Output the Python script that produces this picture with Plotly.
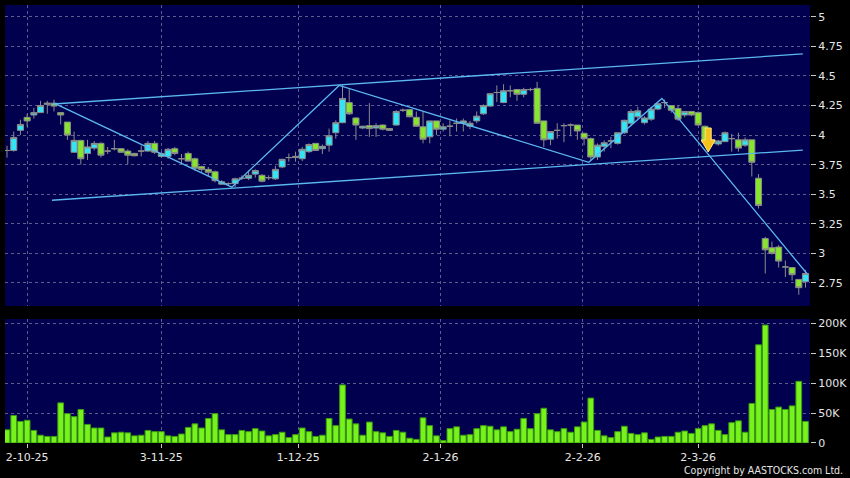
import plotly.graph_objects as go

# ---------------- data ----------------
open_ = [3.87, 3.87, 4.04, 4.15, 4.17, 4.19, 4.26, 4.27, 4.19, 4.11,
         3.855, 3.955, 3.845, 3.89, 3.93, 3.865, 3.885, 3.885, 3.865, 3.845,
         3.865, 3.865, 3.93, 3.82, 3.82, 3.885, 3.80, 3.845, 3.80, 3.735,
         3.71, 3.69, 3.585, 3.59, 3.59, 3.635, 3.635, 3.67, 3.66, 3.64,
         3.63, 3.73, 3.81, 3.81, 3.80, 3.86, 3.93, 3.885, 3.915, 4.02,
         4.105, 4.275, 4.145, 4.06, 4.08, 4.06, 4.085, 4.055, 4.085, 4.21,
         4.215, 4.15, 4.07, 3.985, 4.12, 4.05, 4.075, 4.10, 4.10, 4.075,
         4.12, 4.18, 4.245, 4.36, 4.275, 4.375, 4.385, 4.345, 4.385, 4.395,
         4.12, 3.965, 4.04, 4.08, 4.085, 4.085, 4.015, 3.97, 3.815, 3.905,
         3.95, 3.93, 4.02, 4.10, 4.155, 4.105, 4.135, 4.22, 4.275, 4.25,
         4.225, 4.17, 4.20, 4.19, 4.075, 3.96, 3.925, 3.945, 3.97, 3.96,
         3.915, 3.96, 3.635, 3.125, 3.048, 3.053, 2.885, 2.88, 2.78, 2.76]
high = [3.91, 4.03, 4.13, 4.18, 4.23, 4.29, 4.29, 4.30, 4.19, 4.11,
        4.03, 3.96, 3.96, 3.95, 3.94, 3.90, 3.96, 3.89, 3.88, 3.85,
        3.91, 3.95, 3.95, 3.86, 3.89, 3.90, 3.84, 3.86, 3.81, 3.74,
        3.73, 3.70, 3.62, 3.60, 3.64, 3.66, 3.70, 3.71, 3.67, 3.66,
        3.74, 3.80, 3.845, 3.86, 3.90, 3.93, 3.93, 3.92, 4.055, 4.125,
        4.42, 4.39, 4.15, 4.08, 4.27, 4.10, 4.09, 4.06, 4.21, 4.225,
        4.22, 4.20, 4.20, 4.12, 4.12, 4.10, 4.125, 4.14, 4.14, 4.12,
        4.20, 4.26, 4.35, 4.42, 4.43, 4.42, 4.39, 4.40, 4.40, 4.45,
        4.12, 4.03, 4.10, 4.10, 4.10, 4.085, 4.02, 3.98, 3.93, 3.955,
        3.985, 4.02, 4.13, 4.22, 4.24, 4.16, 4.24, 4.27, 4.30, 4.25,
        4.25, 4.20, 4.20, 4.20, 4.08, 3.97, 3.96, 4.03, 4.01, 4.02,
        3.98, 3.96, 3.67, 3.14, 3.10, 3.07, 2.94, 2.88, 2.78, 2.86]
low = [3.81, 3.86, 4.00, 4.07, 4.14, 4.19, 4.18, 4.20, 4.09, 3.96,
       3.85, 3.75, 3.79, 3.87, 3.81, 3.84, 3.87, 3.85, 3.755, 3.82,
       3.82, 3.86, 3.84, 3.81, 3.80, 3.83, 3.76, 3.78, 3.70, 3.69,
       3.65, 3.60, 3.58, 3.57, 3.56, 3.62, 3.62, 3.64, 3.60, 3.62,
       3.62, 3.72, 3.775, 3.775, 3.78, 3.85, 3.87, 3.84, 3.86, 3.97,
       4.10, 4.17, 3.96, 4.05, 3.985, 3.985, 4.04, 4.035, 4.08, 4.195,
       4.15, 4.07, 3.93, 3.93, 4.00, 4.03, 3.99, 4.03, 4.03, 4.05,
       4.10, 4.17, 4.24, 4.28, 4.27, 4.32, 4.29, 4.32, 4.37, 4.10,
       3.90, 3.915, 3.97, 3.94, 3.99, 3.96, 3.915, 3.79, 3.79, 3.86,
       3.89, 3.92, 4.01, 4.08, 4.14, 4.09, 4.12, 4.21, 4.23, 4.19,
       4.12, 4.15, 4.16, 4.08, 3.93, 3.90, 3.91, 3.94, 3.86, 3.86,
       3.90, 3.65, 3.38, 2.83, 2.99, 2.88, 2.80, 2.77, 2.65, 2.71]
close = [3.87, 3.98, 4.09, 4.12, 4.19, 4.25, 4.27, 4.245, 4.17, 4.00,
         3.955, 3.80, 3.90, 3.93, 3.83, 3.865, 3.885, 3.855, 3.83, 3.825,
         3.865, 3.93, 3.855, 3.845, 3.88, 3.845, 3.80, 3.78, 3.72, 3.71,
         3.685, 3.615, 3.605, 3.59, 3.63, 3.635, 3.66, 3.70, 3.61, 3.64,
         3.71, 3.795, 3.81, 3.82, 3.88, 3.92, 3.87, 3.905, 3.995, 4.105,
         4.31, 4.18, 4.085, 4.075, 4.055, 4.08, 4.05, 4.04, 4.20, 4.21,
         4.155, 4.075, 3.965, 4.12, 4.05, 4.07, 4.075, 4.10, 4.12, 4.10,
         4.16, 4.25, 4.35, 4.36, 4.375, 4.375, 4.345, 4.385, 4.385, 4.10,
         3.96, 4.03, 4.04, 4.08, 4.085, 4.035, 3.97, 3.815, 3.915, 3.935,
         3.95, 4.02, 4.125, 4.20, 4.205, 4.145, 4.22, 4.265, 4.275, 4.21,
         4.135, 4.20, 4.17, 4.085, 3.94, 3.93, 3.95, 4.02, 3.97, 3.89,
         3.96, 3.77, 3.405, 3.03, 3.00, 2.935, 2.885, 2.82, 2.71, 2.83]
volume_k = [22, 46, 36, 38, 21, 13, 11, 11, 67, 49,
            44, 56, 31, 25, 25, 10, 17, 18, 17, 12,
            13, 21, 19, 19, 12, 11, 15, 26, 32, 25,
            41, 49, 22, 14, 14, 21, 19, 24, 20, 12,
            14, 18, 9, 14, 25, 19, 11, 13, 41, 29,
            97, 40, 32, 13, 35, 19, 17, 11, 21, 18,
            8, 6, 42, 29, 12, 4, 24, 27, 13, 14,
            24, 29, 28, 22, 27, 19, 23, 41, 24, 49,
            58, 22, 19, 24, 18, 27, 35, 75, 21, 12,
            9, 19, 28, 16, 14, 17, 6, 10, 11, 11,
            18, 20, 16, 24, 29, 32, 21, 14, 34, 37,
            18, 66, 164, 197, 56, 60, 56, 62, 103, 36]
volume = [v * 1000 for v in volume_k]
bar_index = list(range(len(close)))

date_tick_pos = [3, 23, 43.4, 64.6, 85.8, 103]
date_tick_text = ["2-10-25", "3-11-25", "1-12-25", "2-1-26", "2-2-26", "2-3-26"]
price_ticks = [2.75, 3, 3.25, 3.5, 3.75, 4, 4.25, 4.5, 4.75, 5]
vol_tick_vals = [0, 50000, 100000, 150000, 200000]
vol_tick_text = ["0", "50K", "100K", "150K", "200K"]

# drawn trend lines (bar index, price)
channel_upper_x = [6.9, 118.6]
channel_upper_y = [4.263, 4.686]
channel_lower_x = [6.7, 118.6]
channel_lower_y = [3.449, 3.873]
zigzag_x = [7.0, 33.5, 49.5, 86.7, 97.6, 119.2]
zigzag_y = [4.27, 3.56, 4.42, 3.77, 4.31, 2.83]
signal_x = 104.5
signal_y = 3.95

# ---------------- style ----------------
NAVY = "#00004e"
GRID = "#5c5c8e"
TXT = "#e6e6e6"
LINE_C = "#5cb8f0"
FONT = "DejaVu Sans"

fig = go.Figure()
fig.add_trace(go.Candlestick(
    x=bar_index, open=open_, high=high, low=low, close=close,
    increasing=dict(fillcolor="#33e4f4", line=dict(color="#8c8c8c", width=1)),
    decreasing=dict(fillcolor="#86e52c", line=dict(color="#8c8c8c", width=1)),
    whiskerwidth=0, showlegend=False, hoverinfo="skip",
    xaxis="x", yaxis="y"))

for xs, ys in [(channel_upper_x, channel_upper_y),
               (channel_lower_x, channel_lower_y),
               (zigzag_x, zigzag_y)]:
    fig.add_trace(go.Scatter(x=xs, y=ys, mode="lines",
                             line=dict(color=LINE_C, width=1.3),
                             showlegend=False, hoverinfo="skip",
                             xaxis="x", yaxis="y"))

fig.add_trace(go.Bar(x=bar_index, y=volume,
                     marker=dict(color="#77f21c", line=dict(color="#3a9a10", width=1)),
                     showlegend=False, hoverinfo="skip",
                     xaxis="x2", yaxis="y2"))

# sell signal arrow (pixel-size shape anchored at data point)
fig.add_shape(type="path", xref="x", yref="y",
              xsizemode="pixel", ysizemode="pixel",
              xanchor=signal_x, yanchor=signal_y,
              path="M -3,13 L 3,13 L 3,1 L 7,1 L 0,-11 L -7,1 L -3,1 Z",
              fillcolor="#f6c21a", line=dict(color="#ffe680", width=1),
              layer="above")

xr = [-0.3, 119.67]
fig.update_layout(
    width=850, height=478,
    margin=dict(l=5, r=40, t=5, b=35),
    paper_bgcolor="black", plot_bgcolor=NAVY,
    font=dict(family=FONT, size=11, color=TXT),
    bargap=0.15, boxgap=0.05, boxgroupgap=0.05,
    xaxis=dict(domain=[0, 1], anchor="y", range=xr, rangeslider=dict(visible=False),
               tickvals=date_tick_pos, ticktext=date_tick_text, showticklabels=False,
               showgrid=True, gridcolor=GRID, griddash="dot", gridwidth=1,
               zeroline=False, ticks=""),
    yaxis=dict(domain=[0.3128, 1], anchor="x", side="right", range=[2.555, 5.10],
               tickvals=price_ticks, showgrid=True, gridcolor=GRID, griddash="dot",
               zeroline=False, ticks="outside", ticklen=5, tickcolor="#c8c8c8",
               tickfont=dict(size=11, color=TXT), automargin=False),
    xaxis2=dict(domain=[0, 1], anchor="y2", range=xr, matches="x",
                tickvals=date_tick_pos, ticktext=date_tick_text,
                showgrid=True, gridcolor=GRID, griddash="dot", gridwidth=1,
                zeroline=False, ticks="outside", ticklen=4, tickcolor="#c8c8c8",
                tickfont=dict(size=11, color=TXT), automargin=False),
    yaxis2=dict(domain=[0, 0.283], anchor="x2", side="right", range=[0, 207000],
                tickvals=vol_tick_vals, ticktext=vol_tick_text,
                showgrid=True, gridcolor=GRID, griddash="dot",
                zeroline=False, ticks="outside", ticklen=5, tickcolor="#c8c8c8",
                tickfont=dict(size=11, color=TXT), automargin=False),
)

fig.add_annotation(text="Copyright by AASTOCKS.com Ltd.", xref="paper", yref="paper",
                   x=1.0435, y=-0.062, xanchor="right", yanchor="middle",
                   showarrow=False, font=dict(family="DejaVu Sans Condensed", size=10.5, color=TXT))

fig.write_html("out.html",
               config={"displayModeBar": False},
               post_script="document.body.style.margin='0';document.body.style.background='black';")
